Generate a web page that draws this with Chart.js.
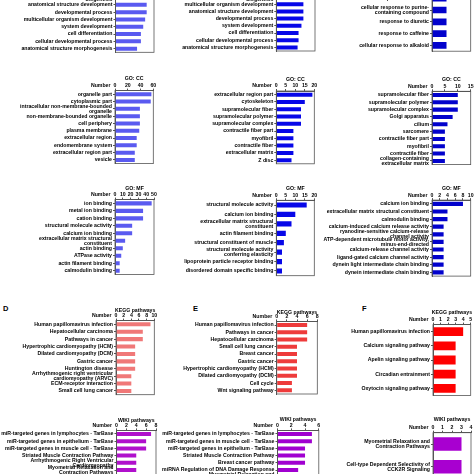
<!DOCTYPE html>
<html>
<head>
<meta charset="utf-8">
<script src="https://cdn.jsdelivr.net/npm/chart.js@4.4.0/dist/chart.umd.min.js"></script>
<style>
  html, body { margin: 0; padding: 0; background: #fff; }
  #fig { position: relative; width: 474px; height: 474px; overflow: hidden; background: #fff; }
  #fig canvas { position: absolute; }
  .letter { position: absolute; font: bold 7.5px "Liberation Sans", Arial, sans-serif; color: #000; transform: translateY(-50%); }
</style>
</head>
<body>
<div id="fig">
  <div class="letter" style="left:3px;top:308px">D</div>
  <div class="letter" style="left:193px;top:308px">E</div>
  <div class="letter" style="left:362px;top:308px">F</div>
</div>
<script>
// --- GO: BP (top row, mostly cut off) ---
const bp1Labels = ['multicellular organismal process', 'cellular component organization', ['cellular component organization or', 'biogenesis'], 'anatomical structure development', 'developmental process', 'multicellular organism development', 'system development', 'cell differentiation', 'cellular developmental process', 'anatomical structure morphogenesis'];
const bp1Values = [92, 86, 83, 81, 81, 77, 72, 66, 66, 56];
const bp2Labels = ['multicellular organismal process', 'cellular component organization', ['cellular component organization or', 'biogenesis'], 'multicellular organism development', 'anatomical structure development', 'developmental process', 'system development', 'cell differentiation', 'cellular developmental process', 'anatomical structure morphogenesis'];
const bp2Values = [34, 31, 29, 28, 28, 28, 26, 23, 23, 22];
const bp3Labels = ['response to purine-containing compound', 'response to alkaloid', ['cellular response to purine-', 'containing compound'], 'response to diuretic', 'response to caffeine', 'cellular response to alkaloid'];
const bp3Values = [3, 3, 3, 3, 3, 3];

// --- GO: CC ---
const cc1Labels = ['organelle part', 'cytoplasmic part', ['intracellular non-membrane-bounded', 'organelle'], 'non-membrane-bounded organelle', 'cell periphery', 'plasma membrane', 'extracellular region', 'endomembrane system', 'extracellular region part', 'vesicle'];
const cc1Values = [57, 56, 39, 39, 39, 38, 34, 34, 31, 31];
const cc2Labels = ['extracellular region part', 'cytoskeleton', 'supramolecular fiber', 'supramolecular polymer', 'supramolecular complex', 'contractile fiber part', 'myofibril', 'contractile fiber', 'extracellular matrix', 'Z disc'];
const cc2Values = [19, 15, 13, 13, 13, 9, 9, 9, 9, 8];
const cc3Labels = ['supramolecular fiber', 'supramolecular polymer', 'supramolecular complex', 'Golgi apparatus', 'cilium', 'sarcomere', 'contractile fiber part', 'myofibril', 'contractile fiber', ['collagen-containing', 'extracellular matrix']];
const cc3Values = [10, 10, 10, 8, 6, 5, 5, 5, 5, 5];

// --- GO: MF ---
const mf1Labels = ['ion binding', 'metal ion binding', 'cation binding', 'structural molecule activity', 'calcium ion binding', ['extracellular matrix structural', 'constituent'], 'actin binding', 'ATPase activity', 'actin filament binding', 'calmodulin binding'];
const mf1Values = [47, 36, 36, 22, 22, 13, 10, 8, 6, 6];
const mf2Labels = ['structural molecule activity', 'calcium ion binding', ['extracellular matrix structural', 'constituent'], 'actin filament binding', 'structural constituent of muscle', ['structural molecule activity', 'conferring elasticity'], 'lipoprotein particle receptor binding', 'disordered domain specific binding'];
const mf2Values = [16, 10, 8, 5, 4, 3, 3, 3];
const mf3Labels = ['calcium ion binding', 'extracellular matrix structural constituent', 'calmodulin binding', 'calcium-induced calcium release activity', ['ryanodine-sensitive calcium-release', 'channel activity'], ['ATP-dependent microtubule motor activity,', 'minus-end-directed'], 'calcium-release channel activity', 'ligand-gated calcium channel activity', 'dynein light intermediate chain binding', 'dynein intermediate chain binding'];
const mf3Values = [8, 4, 4, 3, 3, 3, 3, 3, 3, 3];

// --- KEGG ---
const keggDLabels = ['Human papillomavirus infection', 'Hepatocellular carcinoma', 'Pathways in cancer', 'Hypertrophic cardiomyopathy (HCM)', 'Dilated cardiomyopathy (DCM)', 'Gastric cancer', 'Huntington disease', ['Arrhythmogenic right ventricular', 'cardiomyopathy (ARVC)'], 'ECM-receptor interaction', 'Small cell lung cancer'];
const keggDValues = [9, 7, 7, 5, 5, 5, 5, 4, 4, 4];
const keggELabels = ['Human papillomavirus infection', 'Pathways in cancer', 'Hepatocellular carcinoma', 'Small cell lung cancer', 'Breast cancer', 'Gastric cancer', 'Hypertrophic cardiomyopathy (HCM)', 'Dilated cardiomyopathy (DCM)', 'Cell cycle', 'Wnt signaling pathway'];
const keggEValues = [6, 6, 6, 4, 4, 4, 4, 4, 3, 3];
const keggFLabels = ['Human papillomavirus infection', 'Calcium signaling pathway', 'Apelin signaling pathway', 'Circadian entrainment', 'Oxytocin signaling pathway'];
const keggFValues = [4, 3, 3, 3, 3];

// --- WIKI ---
const wiki1Labels = ['miR-targeted genes in lymphocytes - TarBase', 'miR-targeted genes in epithelium - TarBase', 'miR-targeted genes in muscle cell - TarBase', 'Striated Muscle Contraction Pathway', ['Arrhythmogenic Right Ventricular', 'Cardiomyopathy'], ['Myometrial Relaxation and', 'Contraction Pathways'], 'Calcium Regulation in the Cardiac Cell'];
const wiki1Values = [7, 6, 6, 4, 4, 4, 3];
const wiki2Labels = ['miR-targeted genes in lymphocytes - TarBase', 'miR-targeted genes in muscle cell - TarBase', 'miR-targeted genes in epithelium - TarBase', 'Striated Muscle Contraction Pathway', 'Breast cancer pathway', 'miRNA Regulation of DNA Damage Response', ['Myometrial Relaxation and', 'Contraction Pathways']];
const wiki2Values = [5, 5, 4, 4, 4, 3, 3];
const wiki3Labels = [['Myometrial Relaxation and', 'Contraction Pathways'], ['Cell-type Dependent Selectivity of', 'CCK2R Signaling']];
const wiki3Values = [3, 3];

const FONT = { family: '"Liberation Sans", Arial, sans-serif', size: 5.2, weight: 'bold', lineHeight: 0.95 };
const LINE = '#555';

// draws the frame, the panel title and the "Number" caption
const boxPlugin = {
  id: 'box',
  afterDraw(chart, args, opts) {
    const { ctx, chartArea: a } = chart;
    ctx.save();
    ctx.strokeStyle = LINE;
    ctx.lineWidth = 0.8;
    ctx.strokeRect(a.left, a.top, a.right - a.left, a.bottom - a.top);
    ctx.fillStyle = '#000';
    ctx.font = `bold ${FONT.size}px ${FONT.family}`;
    ctx.textBaseline = 'middle';
    ctx.textAlign = 'center';
    ctx.fillText(opts.title, (a.left + a.right) / 2, opts.titleY);
    ctx.textAlign = 'right';
    ctx.fillText('Number', a.left - 4.5, a.top - 5);
    ctx.restore();
  }
};

const fig = document.getElementById('fig');

function panel(p) {
  const cLeft = p.cx;
  const cTop = Math.floor(p.titleY - 6);
  const cRight = Math.ceil(p.boxR + 10);
  const cBottom = Math.ceil(p.boxB + 8);
  const cv = document.createElement('canvas');
  cv.width = cRight - cLeft;
  cv.height = cBottom - cTop;
  cv.style.left = cLeft + 'px';
  cv.style.top = cTop + 'px';
  fig.appendChild(cv);

  const yW = p.boxL - cLeft;
  const xH = p.boxT - cTop;

  return new Chart(cv.getContext('2d'), {
    type: 'bar',
    data: {
      labels: p.labels,
      datasets: [{
        data: p.values,
        backgroundColor: p.color,
        borderWidth: 0,
        barPercentage: p.barPct || 0.55,
        categoryPercentage: 1
      }]
    },
    options: {
      indexAxis: 'y',
      responsive: false,
      animation: false,
      events: [],
      layout: { padding: { left: 0, top: 0, right: cRight - p.boxR, bottom: cBottom - p.boxB } },
      plugins: {
        legend: { display: false },
        tooltip: { enabled: false },
        box: { title: p.title, titleY: p.titleY - cTop }
      },
      scales: {
        x: {
          position: 'top',
          min: 0,
          max: p.max,
          ticks: { stepSize: p.step, font: FONT, color: '#000', padding: 0.5, maxRotation: 0, autoSkip: false },
          grid: { drawOnChartArea: false, tickLength: 2, color: LINE },
          border: { color: LINE },
          afterFit: s => { s.height = xH; }
        },
        y: {
          ticks: { font: FONT, color: '#000', padding: 1, autoSkip: false },
          grid: { drawOnChartArea: false, tickLength: 2, color: LINE, offset: false },
          border: { color: LINE },
          afterFit: s => { s.width = yW; }
        }
      }
    },
    plugins: [boxPlugin]
  });
}

const BLUE1 = '#5a5af0', BLUE2 = '#0707e8', BLUE3 = '#0202cc';

panel({ cx: 0, boxL: 115.5, boxR: 154, boxT: -20.7, boxB: 52.3, titleY: -33, title: 'GO: BP', labels: bp1Labels, values: bp1Values, max: 100, step: 20, color: BLUE1 });
panel({ cx: 150, boxL: 276.3, boxR: 315, boxT: -21, boxB: 51, titleY: -33, title: 'GO: BP', labels: bp2Labels, values: bp2Values, max: 40, step: 10, color: BLUE2 });
panel({ cx: 318, boxL: 432, boxR: 470.7, boxT: -19.4, boxB: 51.2, titleY: -32, title: 'GO: BP', labels: bp3Labels, values: bp3Values, max: 8, step: 2, color: BLUE3, barPct: 0.57 });

panel({ cx: 0, boxL: 115, boxR: 153.3, boxT: 90.6, boxB: 163.6, titleY: 78.5, title: 'GO: CC', labels: cc1Labels, values: cc1Values, max: 60, step: 20, color: BLUE1 });
panel({ cx: 150, boxL: 276.3, boxR: 314.3, boxT: 91, boxB: 163.8, titleY: 79.5, title: 'GO: CC', labels: cc2Labels, values: cc2Values, max: 20, step: 5, color: BLUE2 });
panel({ cx: 318, boxL: 432, boxR: 470.7, boxT: 91.3, boxB: 164.6, titleY: 80, title: 'GO: CC', labels: cc3Labels, values: cc3Values, max: 15, step: 5, color: BLUE3 });

panel({ cx: 0, boxL: 115, boxR: 154, boxT: 199.6, boxB: 274.5, titleY: 189, title: 'GO: MF', labels: mf1Labels, values: mf1Values, max: 50, step: 10, color: BLUE1 });
panel({ cx: 150, boxL: 276.3, boxR: 314.3, boxT: 200.3, boxB: 275.7, titleY: 189, title: 'GO: MF', labels: mf2Labels, values: mf2Values, max: 20, step: 5, color: BLUE2 });
panel({ cx: 318, boxL: 432, boxR: 470.7, boxT: 200.1, boxB: 276.1, titleY: 189, title: 'GO: MF', labels: mf3Labels, values: mf3Values, max: 10, step: 2, color: BLUE3 });

panel({ cx: 0, boxL: 116, boxR: 154.3, boxT: 320.6, boxB: 394.7, titleY: 311, title: 'KEGG pathways', labels: keggDLabels, values: keggDValues, max: 10, step: 2, color: '#f07878' });
panel({ cx: 150, boxL: 276.7, boxR: 317.3, boxT: 321.4, boxB: 394, titleY: 312.5, title: 'KEGG pathways', labels: keggELabels, values: keggEValues, max: 8, step: 2, color: '#ee3b3b' });
panel({ cx: 318, boxL: 433, boxR: 470.7, boxT: 324.6, boxB: 395.4, titleY: 312.7, title: 'KEGG pathways', labels: keggFLabels, values: keggFValues, max: 5, step: 1, color: '#ff0000', barPct: 0.62 });

panel({ cx: 0, boxL: 116.5, boxR: 156, boxT: 430.4, boxB: 480.8, titleY: 420.7, title: 'WIKI pathways', labels: wiki1Labels, values: wiki1Values, max: 8, step: 2, color: '#b010cc' });
panel({ cx: 150, boxL: 277.5, boxR: 318.8, boxT: 430.4, boxB: 480.8, titleY: 420, title: 'WIKI pathways', labels: wiki2Labels, values: wiki2Values, max: 6, step: 2, color: '#a000d0' });
panel({ cx: 318, boxL: 433, boxR: 471, boxT: 432.7, boxB: 478.1, titleY: 420, title: 'WIKI pathways', labels: wiki3Labels, values: wiki3Values, max: 4, step: 1, color: '#a800d0', barPct: 0.59 });
</script>
</body>
</html>
